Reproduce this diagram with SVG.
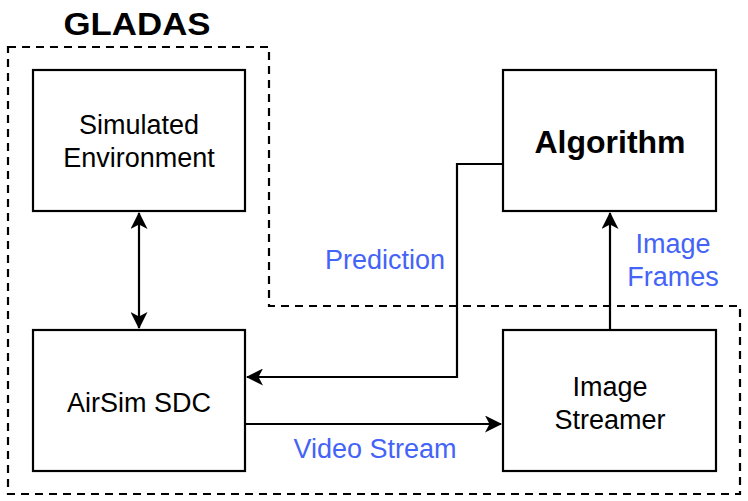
<svg xmlns="http://www.w3.org/2000/svg" width="748" height="501" viewBox="0 0 748 501">
<style>
.box{fill:#fff;stroke:#000;stroke-width:2.2}
.t{font-family:"Liberation Sans",Arial,sans-serif;font-size:27px;fill:#000;text-anchor:middle}
.b{font-weight:bold}
.lbl{font-family:"Liberation Sans",Arial,sans-serif;font-size:27px;fill:#4463f7;text-anchor:middle}
.c{fill:none;stroke:#000;stroke-width:2.2}
</style>
<defs>
<marker id="ah" viewBox="0 0 17 17" refX="16" refY="8.5" markerWidth="17" markerHeight="17" markerUnits="userSpaceOnUse" orient="auto-start-reverse">
<path d="M0,0 L17,8.5 L0,17 L4.5,8.5 Z" fill="#000"/>
</marker>
</defs>
<rect width="748" height="501" fill="#fff"/>
<g id="gladas">
<path d="M8,47 H269 V306 H740 V494 H8 Z" fill="none" stroke="#000" stroke-width="2.2" stroke-dasharray="8,6"/>
<text x="137" y="35" class="t b" style="font-size:31px" textLength="147" lengthAdjust="spacingAndGlyphs">GLADAS</text>
</g>
<g id="connectors">
<line class="c" x1="139" y1="213" x2="139" y2="328" marker-start="url(#ah)" marker-end="url(#ah)"/>
<polyline class="c" points="503,164 457,164 457,377 247,377" marker-end="url(#ah)"/>
<line class="c" x1="610" y1="330" x2="610" y2="213" marker-end="url(#ah)"/>
<line class="c" x1="245" y1="424" x2="501" y2="424" marker-end="url(#ah)"/>
<text class="lbl" x="385" y="269">Prediction</text>
<text class="lbl" x="673" y="253">Image</text>
<text class="lbl" x="673" y="286">Frames</text>
<text class="lbl" x="375" y="458">Video Stream</text>
</g>
<g id="sim-env">
<rect class="box" x="33" y="70" width="212" height="141"/>
<text class="t" x="139" y="134">Simulated</text>
<text class="t" x="139" y="167">Environment</text>
</g>
<g id="algorithm">
<rect class="box" x="503" y="70" width="213" height="141"/>
<text class="t b" x="610" y="153" style="font-size:32px">Algorithm</text>
</g>
<g id="airsim">
<rect class="box" x="33" y="330" width="212" height="141"/>
<text class="t" x="139" y="412">AirSim SDC</text>
</g>
<g id="streamer">
<rect class="box" x="503" y="330" width="213" height="141"/>
<text class="t" x="610" y="396">Image</text>
<text class="t" x="610" y="429">Streamer</text>
</g>
</svg>
